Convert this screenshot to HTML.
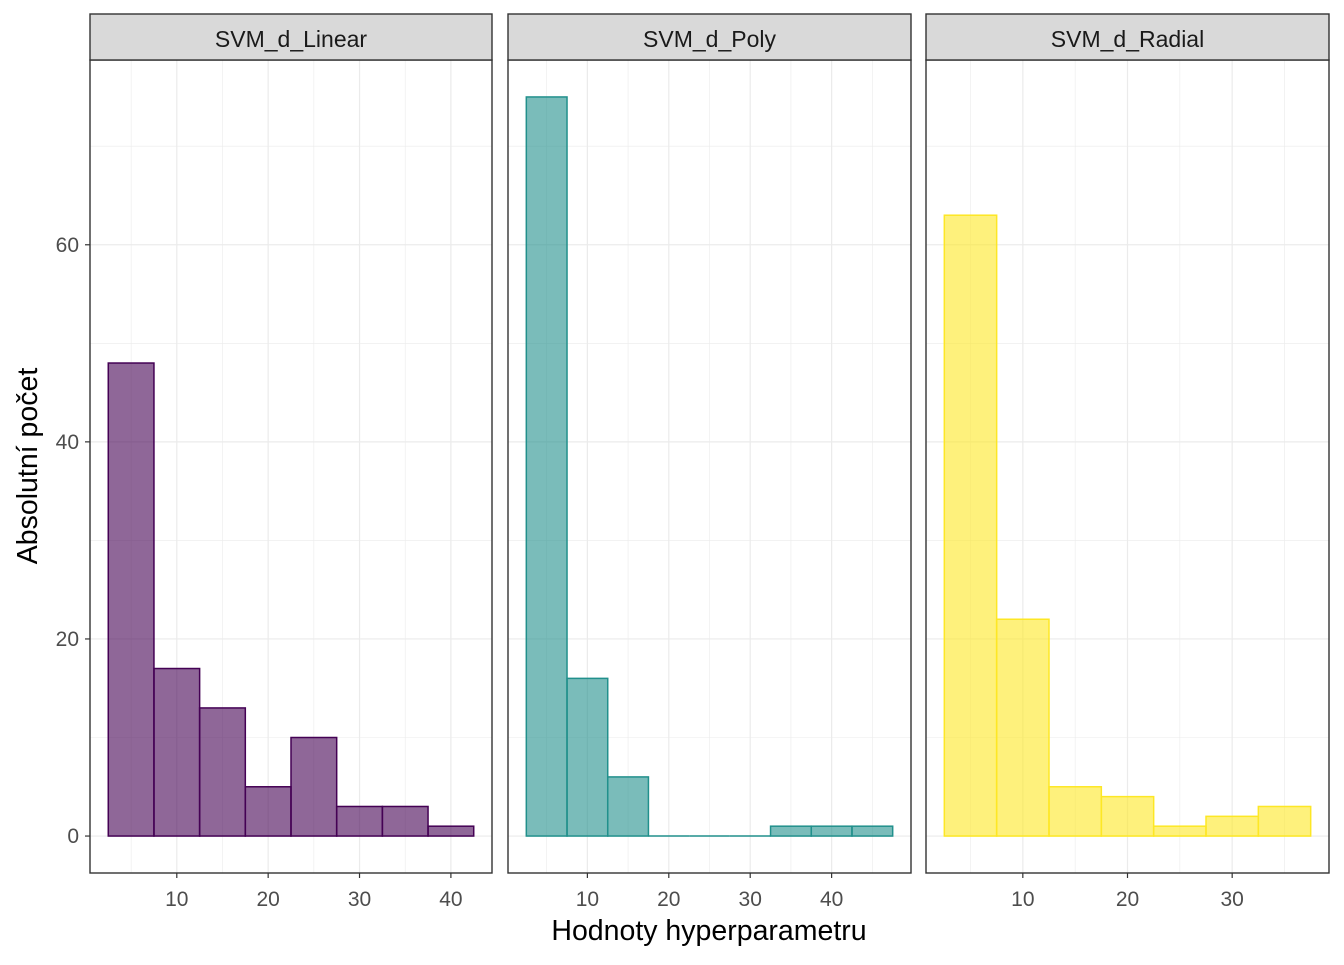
<!DOCTYPE html>
<html><head><meta charset="utf-8"><style>
body{margin:0;background:#fff;font-family:"Liberation Sans",sans-serif}
</style></head><body>
<svg id="c" width="1344" height="960" xmlns="http://www.w3.org/2000/svg"></svg>
<script>
const panelNames=["SVM_d_Linear","SVM_d_Poly","SVM_d_Radial"];
const linearCounts=[48,17,13,5,10,3,3,1];
const polyCounts=[75,16,6,0,0,0,1,1,1];
const radialCounts=[63,22,5,4,1,2,3];
const binWidth=5;
const yTicks=[0,20,40,60];
const linearXTicks=[10,20,30,40];
const polyXTicks=[10,20,30,40];
const radialXTicks=[10,20,30];
const NS="http://www.w3.org/2000/svg";
const svgRoot=document.getElementById('c');
function mk(t,a,p){const e=document.createElementNS(NS,t);for(const k in a)e.setAttribute(k,a[k]);(p||svgRoot).appendChild(e);return e;}
const panels=[
 {x0:90,x1:492,counts:linearCounts,ticks:linearXTicks,stroke:"#440154",fill:"#440154",op:0.6},
 {x0:508,x1:911,counts:polyCounts,ticks:polyXTicks,stroke:"#21908C",fill:"#21908C",op:0.6},
 {x0:926,x1:1329,counts:radialCounts,ticks:radialXTicks,stroke:"#FDE725",fill:"#FDE725",op:0.6}
];
const panelTop=60,panelBot=873;
const yMin=-3.75,yMax=78.75;
const ys=v=>panelBot-(v-yMin)/(yMax-yMin)*(panelBot-panelTop);
panels.forEach((p,i)=>{
 const n=p.counts.length;
 const lo=2.5,hi=2.5+n*binWidth,ex=(hi-lo)*0.05;
 const xs=v=>p.x0+(v-(lo-ex))/((hi-lo)+2*ex)*(p.x1-p.x0);
 const g=mk('g',{});
 
 
 for(let v=10;v<yMax;v+=20){mk('line',{x1:p.x0,x2:p.x1,y1:ys(v),y2:ys(v),stroke:"#ebebeb","stroke-width":0.6},g);}
 yTicks.forEach(v=>mk('line',{x1:p.x0,x2:p.x1,y1:ys(v),y2:ys(v),stroke:"#ebebeb","stroke-width":1.2},g));
 const step=p.ticks[1]-p.ticks[0];
 for(let v=p.ticks[0]-step/2;v<=hi+ex;v+=step){const X=xs(v);if(X>p.x0&&X<p.x1)mk('line',{x1:X,x2:X,y1:panelTop,y2:panelBot,stroke:"#ebebeb","stroke-width":0.6},g);}
 p.ticks.forEach(v=>mk('line',{x1:xs(v),x2:xs(v),y1:panelTop,y2:panelBot,stroke:"#ebebeb","stroke-width":1.2},g));
 p.counts.forEach((c,k)=>{
  const a=lo+k*binWidth,b=a+binWidth;
  let r;
  if(c===0){
   r=mk('line',{x1:xs(a),x2:xs(b),y1:ys(0),y2:ys(0),stroke:p.stroke,"stroke-width":1.5},g);
  }else{
   r=mk('rect',{x:xs(a),y:ys(c),width:xs(b)-xs(a),height:ys(0)-ys(c),fill:p.fill,"fill-opacity":p.op,stroke:p.stroke,"stroke-width":1.5},g);
  }
  
  
 });
 mk('rect',{x:p.x0,y:panelTop,width:p.x1-p.x0,height:panelBot-panelTop,fill:"none",stroke:"#333","stroke-width":1.4},g);
 const s=mk('rect',{x:p.x0,y:14,width:p.x1-p.x0,height:46,fill:"#d9d9d9",stroke:"#333","stroke-width":1.4},g);
 
 
 const st=mk('text',{x:(p.x0+p.x1)/2,y:47,"text-anchor":"middle","font-size":23,fill:"#1a1a1a"},g);
 st.textContent=panelNames[i];
 
 
 p.ticks.forEach(v=>{
  mk('line',{x1:xs(v),x2:xs(v),y1:panelBot,y2:panelBot+5,stroke:"#333","stroke-width":1.2},g);
  const t=mk('text',{x:xs(v),y:906,"text-anchor":"middle","font-size":21,fill:"#4d4d4d"},g);
  t.textContent=v;
  
  
 });
});
yTicks.forEach(v=>{
 mk('line',{x1:85,x2:90,y1:ys(v),y2:ys(v),stroke:"#333","stroke-width":1.2});
 const t=mk('text',{x:79,y:ys(v)+7,"text-anchor":"end","font-size":21,fill:"#4d4d4d"});
 t.textContent=v;
 
 
});
const xt=mk('text',{x:709,y:940,"text-anchor":"middle","font-size":28.5,fill:"#000"});
xt.textContent="Hodnoty hyperparametru";


const yt=mk('text',{x:37,y:466,"text-anchor":"middle","font-size":28.5,fill:"#000",transform:"rotate(-90 37 466)"});
yt.textContent="Absolutní počet";


</script>
</body></html>
